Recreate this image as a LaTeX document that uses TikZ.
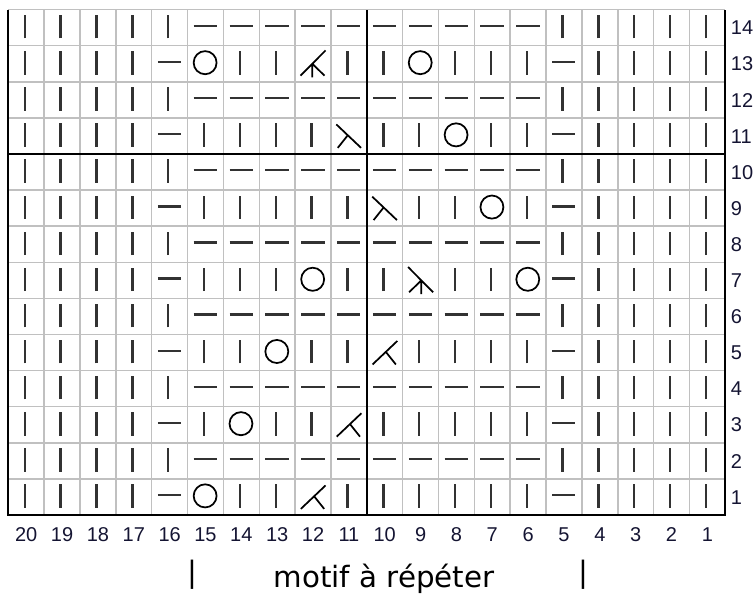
\documentclass[tikz,border=0pt]{standalone}
\usepackage{fontspec}
\setmainfont{Liberation Sans}
\newfontfamily\motiffont{DejaVu Sans}
\definecolor{gridgray}{RGB}{192,192,192}
\definecolor{bargray}{RGB}{50,50,50}
\definecolor{labelblue}{RGB}{20,20,50}

\begin{document}
\begin{tikzpicture}[x=26.8875pt,y=27.075pt,
  gridline/.style={draw=gridgray,line width=1.1pt},
  boldline/.style={draw=black,line width=1.5pt},
  barline/.style={draw=bargray,line width=1.8pt},
  symline/.style={draw=black,line width=1.3pt},
  collabel/.style={text=labelblue,font=\fontsize{15}{17}\selectfont,anchor=base},
  rowlabel/.style={collabel,anchor=base west,inner sep=0pt},
  motif/.style={font=\motiffont\fontsize{22}{26}\selectfont},
  knit/.pic={\draw[barline] (-.04,-.3) -- (-.04,.35);},
  purl/.pic={\draw[barline] (-.33,.05) -- (.32,.05);},
  yo/.pic={\draw[symline] (-.01,.03) circle[radius=.32];},
  k2tog/.pic={\draw[symline] (-.34,-.33) -- (.35,.32) (.03,.02) -- (.31,-.33);},
  ssk/.pic={\draw[symline] (-.35,.32) -- (.34,-.33) (-.03,.02) -- (-.31,-.33);},
  k3tog/.pic={\draw[symline] (-.35,-.33) -- (.35,.37) (-.02,0) -- (.32,-.33) (-.02,0) -- (-.02,-.38);},
  sssk/.pic={\draw[symline] (-.35,.37) -- (.35,-.33) (.02,0) -- (-.32,-.33) (.02,0) -- (.02,-.38);}
]
\useasboundingbox (-.2315,-2.1607) rectangle (20.828,14.266);

\foreach \i in {0,...,20} \draw[gridline] (\i,0) -- (\i,14);
\foreach \j in {0,...,14} \draw[gridline] (0,\j) -- (20,\j);
\draw[boldline] (0,14) -- (0,0) -- (20,0) -- (20,14);
\draw[boldline] (10,0) -- (10,14);
\draw[boldline] (0,10) -- (20,10);

\foreach \r in {2,4,...,14}
  \foreach \s [count=\i from 0] in {knit,knit,knit,knit,knit,purl,purl,purl,purl,purl,purl,purl,purl,purl,purl,knit,knit,knit,knit,knit}
    \pic at (\i+.5,\r-.5) {\s};
\foreach \s [count=\i from 0] in {knit,knit,knit,knit,purl,yo,knit,knit,k2tog,knit,knit,knit,knit,knit,knit,purl,knit,knit,knit,knit}
  \pic at (\i+.5,.5) {\s};
\foreach \s [count=\i from 0] in {knit,knit,knit,knit,purl,knit,yo,knit,knit,k2tog,knit,knit,knit,knit,knit,purl,knit,knit,knit,knit}
  \pic at (\i+.5,2.5) {\s};
\foreach \s [count=\i from 0] in {knit,knit,knit,knit,purl,knit,knit,yo,knit,knit,k2tog,knit,knit,knit,knit,purl,knit,knit,knit,knit}
  \pic at (\i+.5,4.5) {\s};
\foreach \s [count=\i from 0] in {knit,knit,knit,knit,purl,knit,knit,knit,yo,knit,knit,sssk,knit,knit,yo,purl,knit,knit,knit,knit}
  \pic at (\i+.5,6.5) {\s};
\foreach \s [count=\i from 0] in {knit,knit,knit,knit,purl,knit,knit,knit,knit,knit,ssk,knit,knit,yo,knit,purl,knit,knit,knit,knit}
  \pic at (\i+.5,8.5) {\s};
\foreach \s [count=\i from 0] in {knit,knit,knit,knit,purl,knit,knit,knit,knit,ssk,knit,knit,yo,knit,knit,purl,knit,knit,knit,knit}
  \pic at (\i+.5,10.5) {\s};
\foreach \s [count=\i from 0] in {knit,knit,knit,knit,purl,yo,knit,knit,k3tog,knit,knit,yo,knit,knit,knit,purl,knit,knit,knit,knit}
  \pic at (\i+.5,12.5) {\s};

\foreach \c [count=\i from 0] in {20,19,...,1}
  \node[collabel] (col\c) at (\i+.5,-.73) {\c};
\foreach \r in {1,...,14}
  \node[rowlabel] (row\r) at (20.15,\r-.7) {\r};

\node[motif,anchor=center] (barleft) at (5.124,-1.662) {|};
\node[motif,anchor=base] (motiftext) at (10.48,-1.994) {motif à répéter};
\node[motif,anchor=center] (barright) at (16.03,-1.662) {|};
\end{tikzpicture}
\end{document}
